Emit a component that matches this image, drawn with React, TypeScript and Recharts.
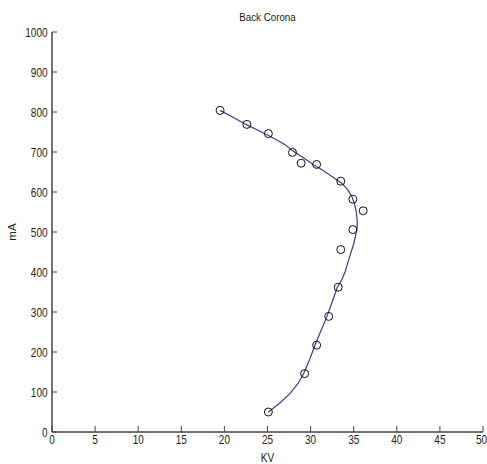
import React from "react";
import { ScatterChart, Scatter, XAxis, YAxis } from "recharts";

const xTicks = [0, 5, 10, 15, 20, 25, 30, 35, 40, 45, 50];
const yTicks = [0, 100, 200, 300, 400, 500, 600, 700, 800, 900, 1000];

const measuredKV = [19.5, 22.6, 25.1, 27.9, 28.9, 30.7, 33.5, 34.9, 36.1, 34.9, 33.5, 33.2, 32.1, 30.7, 29.3, 25.1];
const measuredMA = [804, 769, 746, 699, 672, 669, 627, 582, 553, 506, 456, 362, 289, 217, 146, 50];

const fitKV = [19.5, 21, 22.5, 24, 25.5, 27, 28, 29.2, 30.3, 31.5, 32.6, 33.6, 34.3, 34.8, 35.1, 35.3, 35.4, 35.4, 35.2, 35.0, 34.7, 34.4, 34.0, 33.6, 33.1, 32.5, 31.9, 31.2, 30.5, 29.9, 29.2, 28.5, 27.6, 26.4, 25.1];
const fitMA = [804, 787, 769, 753, 737, 719, 702, 685, 669, 653, 637, 622, 606, 588, 570, 550, 530, 510, 490, 470, 450, 429, 400, 380, 362, 325, 289, 253, 217, 182, 146, 120, 96, 72, 50];

const measured = measuredKV.map((kv, i) => ({ kv, ma: measuredMA[i] }));
const fit = fitKV.map((kv, i) => ({ kv, ma: fitMA[i] }));

const FONT = "'Liberation Sans', Arial, sans-serif";
const AXIS = "#444";
const SX = 0.8;

const NarrowText = ({ x, y, anchor, size, children }: any) => (
  <text
    transform={`translate(${x} ${y}) scale(${SX} 1)`}
    x={0}
    y={0}
    textAnchor={anchor}
    fontFamily={FONT}
    fontSize={size}
    fill="#222"
  >
    {children}
  </text>
);

const XTick = (p: any) => (
  <g>
    <line x1={p.x} y1={p.y} x2={p.x} y2={p.y - 6} stroke={AXIS} />
    <NarrowText x={p.payload.value === 50 ? p.x - 1.5 : p.x} y={p.y + 11.5} anchor="middle" size={12.5}>
      {p.payload.value}
    </NarrowText>
  </g>
);

const YTick = (p: any) => (
  <g>
    <line x1={p.x} y1={p.y} x2={p.x + 5} y2={p.y} stroke={AXIS} />
    <NarrowText x={p.x - 4.5} y={p.y + 4.5} anchor="end" size={12.5}>
      {p.payload.value}
    </NarrowText>
  </g>
);

const Circle = (p: any) => (
  <circle cx={p.cx} cy={p.cy} r={4} fill="none" stroke="#111" strokeWidth={1} />
);

export default function App() {
  return (
    <div style={{ position: "absolute", left: 0, top: 0, width: 487, height: 464, background: "#fff" }}>
      <div
        style={{
          position: "absolute",
          top: 10,
          left: 52,
          width: 431,
          textAlign: "center",
          fontFamily: FONT,
          fontSize: 11.5,
          color: "#222",
          lineHeight: "14px",
          transform: "scaleX(0.85)",
        }}
      >
        Back Corona
      </div>
      <ScatterChart width={487} height={464} margin={{ top: 32, right: 4, bottom: 0, left: 0 }}>
        <XAxis
          type="number"
          dataKey="kv"
          domain={[0, 50]}
          ticks={xTicks}
          interval={0}
          height={32}
          tickSize={0}
          tickMargin={0}
          tickLine={false}
          axisLine={{ stroke: AXIS, strokeWidth: 1.5 }}
          tick={<XTick />}
          allowDataOverflow
          label={{
            content: (props: any) => {
              const vb = props.viewBox;
              return (
                <NarrowText x={vb.x + vb.width / 2} y={vb.y + 30} anchor="middle" size={12.5}>
                  KV
                </NarrowText>
              );
            },
          }}
        />
        <YAxis
          type="number"
          dataKey="ma"
          domain={[0, 1000]}
          ticks={yTicks}
          interval={0}
          width={52}
          tickSize={0}
          tickMargin={0}
          tickLine={false}
          axisLine={{ stroke: AXIS, strokeWidth: 1.5 }}
          tick={<YTick />}
          allowDataOverflow
          label={{
            content: (props: any) => {
              const vb = props.viewBox;
              const cx = vb.x + 12;
              const cy = vb.y + vb.height / 2;
              return (
                <text x={cx} y={cy} transform={`rotate(-90 ${cx} ${cy})`} textAnchor="middle" dominantBaseline="central" fontFamily={FONT} fontSize={11.5} fill="#222">
                  mA
                </text>
              );
            },
          }}
        />
        <Scatter
          data={fit}
          line={{ stroke: "#3c3c8c", strokeWidth: 1.2 }}
          lineType="joint"
          shape={() => <g />}
          isAnimationActive={false}
        />
        <Scatter data={measured} shape={<Circle />} isAnimationActive={false} />
      </ScatterChart>
    </div>
  );
}
